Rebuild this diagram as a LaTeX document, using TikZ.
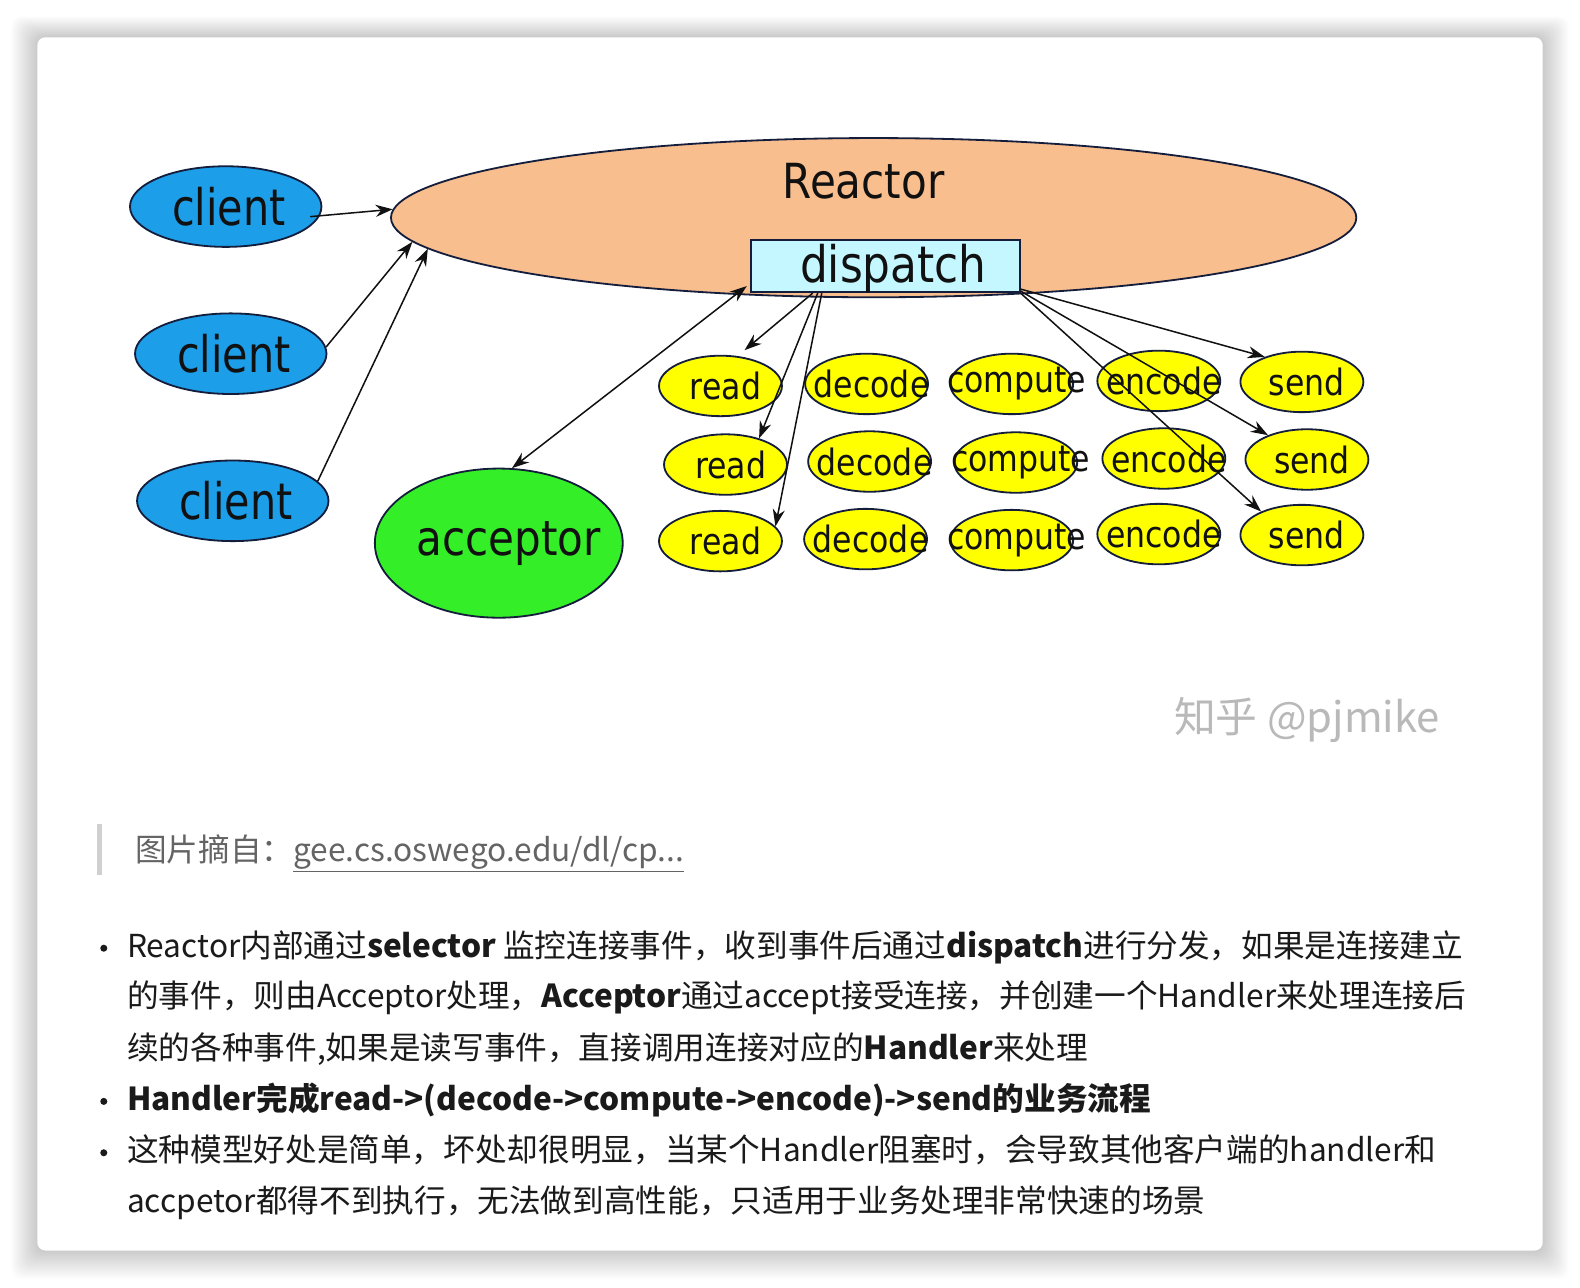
\documentclass[tikz,border=0pt]{standalone}
\usepackage{fontspec}
\usetikzlibrary{shapes.geometric,arrows.meta}
\newfontfamily\diagA[FakeStretch=0.82]{DejaVu Sans}
\newfontfamily\diagB[FakeStretch=0.87]{DejaVu Sans}
\newfontfamily\cjk{Noto Sans CJK SC}
\definecolor{clientblue}{RGB}{28,158,232}
\definecolor{peach}{RGB}{248,190,142}
\definecolor{cyanbox}{RGB}{196,247,255}
\definecolor{accgreen}{RGB}{52,238,40}
\definecolor{yel}{RGB}{255,255,0}
\definecolor{edge}{RGB}{20,30,60}
\definecolor{ink}{RGB}{17,17,17}
\definecolor{bodytext}{RGB}{26,26,26}
\definecolor{quotetext}{RGB}{100,100,100}
\definecolor{quotebar}{RGB}{208,208,208}
\definecolor{wm}{RGB}{185,185,185}
\begin{document}
\begin{tikzpicture}[x=1pt,y=-1pt,
  ell/.style={ellipse, draw=edge, line width=1.8pt, inner sep=0pt},
  clientell/.style={ell, fill=clientblue, minimum width=190pt, minimum height=80pt},
  yellowell/.style={ell, fill=yel, minimum width=122pt, minimum height=60pt},
  clienttxt/.style={font=\diagA\fontsize{50}{50}\selectfont, text=ink, inner sep=0pt, xshift=3pt},
  bigtxt/.style={font=\diagB\fontsize{50}{50}\selectfont, text=ink, inner sep=0pt},
  midtxt/.style={font=\diagB\fontsize{48}{48}\selectfont, text=ink, inner sep=0pt},
  smalltxt/.style={font=\diagB\fontsize{36}{36}\selectfont, text=ink, inner sep=0pt, xshift=5pt},
  arr/.style={-{Stealth[length=17pt,width=12pt]}, line width=1.5pt, draw=ink},
  darr/.style={{Stealth[length=17pt,width=12pt]}-{Stealth[length=17pt,width=12pt]}, line width=1.5pt, draw=ink},
  body/.style={font=\cjk\fontsize{31.4}{37}\selectfont, text=bodytext, anchor=base west, inner sep=0pt},
  bullet/.style={circle, fill=bodytext, inner sep=0pt, minimum size=7pt}
]
\useasboundingbox (0,0) rectangle (1568,1278);
\fill[white] (0,0) rectangle (1568,1278);
% card shadow
\foreach \i in {1,...,26}{
  \fill[black, opacity=0.006, rounded corners=10pt] (37-\i,37-\i*0.8) rectangle (1531+\i,1241+\i*1.1);
}
\fill[white, rounded corners=8pt] (37,37) rectangle (1531,1241);

% Reactor
\node[ell, fill=peach, minimum width=958pt, minimum height=158pt] (reactor) at (867,216) {};
\node[midtxt] (reactortxt) at (857,180) {Reactor};
\node[draw=edge, line width=1.8pt, fill=cyanbox, minimum width=267pt, minimum height=52pt, inner sep=0pt,
      label={[bigtxt, name=disptxt, xshift=8pt, yshift=-3pt]center:dispatch}] (disp) at (878.5,264) {};

% clients
\node[clientell, label={[clienttxt]center:client}] (c1) at (224,205) {};
\node[clientell, label={[clienttxt]center:client}] (c2) at (229,351) {};
\node[clientell, label={[clienttxt]center:client}] (c3) at (231,497) {};

% acceptor
\node[ell, fill=accgreen, minimum width=246pt, minimum height=148pt, label={[midtxt, xshift=10pt]center:acceptor}] (acc) at (495,539) {};

% handlers
\node[yellowell, label={[smalltxt]center:read}] (r1) at (715,383) {};
\node[yellowell, label={[smalltxt]center:decode}] (d1) at (860,381) {};
\node[yellowell, label={[smalltxt]center:compute}] (p1) at (1004,381) {};
\node[yellowell, label={[smalltxt]center:encode}] (e1) at (1150,378) {};
\node[yellowell, label={[smalltxt]center:send}] (s1) at (1292,379) {};

\node[yellowell, label={[smalltxt]center:read}] (r2) at (720,461) {};
\node[yellowell, label={[smalltxt]center:decode}] (d2) at (863,458) {};
\node[yellowell, label={[smalltxt]center:compute}] (p2) at (1008,459) {};
\node[yellowell, label={[smalltxt]center:encode}] (e2) at (1155,455) {};
\node[yellowell, label={[smalltxt]center:send}] (s2) at (1297,456) {};

\node[yellowell, label={[smalltxt]center:read}] (r3) at (715,537) {};
\node[yellowell, label={[smalltxt]center:decode}] (d3) at (859,535) {};
\node[yellowell, label={[smalltxt]center:compute}] (p3) at (1004,536) {};
\node[yellowell, label={[smalltxt]center:encode}] (e3) at (1150,530) {};
\node[yellowell, label={[smalltxt]center:send}] (s3) at (1292,531) {};

% connectors
\draw[arr] ([xshift=-12pt,yshift=-10pt]c1.east) -- (reactor.179.3);
\draw[arr] (c2.4) -- (reactor.183.3);
\draw[arr] (c3.13) -- (reactor.184.5);
\draw[darr] (acc.80) -- ([xshift=-3pt,yshift=7pt]disp.south west);
\draw[arr] ([xshift=-72pt]disp.south) -- ([yshift=7pt]r1.50);
\draw[arr] ([xshift=-67pt]disp.south) -- (r2.38);
\draw[arr] ([xshift=-63pt]disp.south) -- (r3.15);
\draw[arr] ([yshift=4pt]disp.south east) -- (s1.146);
\draw[arr] ([yshift=2pt]disp.south east) -- (s2.148);
\draw[arr] (disp.south east) -- (s3.150);

% watermark
\node[font=\cjk\fontsize{41.5}{41.5}\selectfont, text=wm, anchor=base west, inner sep=0pt] (wmark) at (1165,727) {知乎 @pjmike};

% quote
\fill[quotebar] (96,818) rectangle (101,868);
\node[font=\cjk\fontsize{31.4}{37}\selectfont, text=quotetext, anchor=base west, inner sep=0pt] (quote) at (134,855)
  {图片摘自：\underline{gee.cs.oswego.edu/dl/cp...}};

% bullets
\node[bullet] (b1) at (103,941) {};
\node[bullet] (b4) at (103,1093) {};
\node[bullet] (b5) at (103,1144) {};
\node[body] (l1) at (126,950) {Reactor内部通过\textbf{selector} 监控连接事件，收到事件后通过\textbf{dispatch}进行分发，如果是连接建立};
\node[body] (l2) at (126,1000) {的事件，则由Acceptor处理，\textbf{Acceptor}通过accept接受连接，并创建一个Handler来处理连接后};
\node[body] (l3) at (126,1051) {续的各种事件,如果是读写事件，直接调用连接对应的\textbf{Handler}来处理};
\node[body] (l4) at (126,1102) {\textbf{Handler完成read->(decode->compute->encode)->send的业务流程}};
\node[body] (l5) at (126,1153) {这种模型好处是简单，坏处却很明显，当某个Handler阻塞时，会导致其他客户端的handler和};
\node[body] (l6) at (126,1203) {accpetor都得不到执行，无法做到高性能，只适用于业务处理非常快速的场景};
\end{tikzpicture}
\end{document}
